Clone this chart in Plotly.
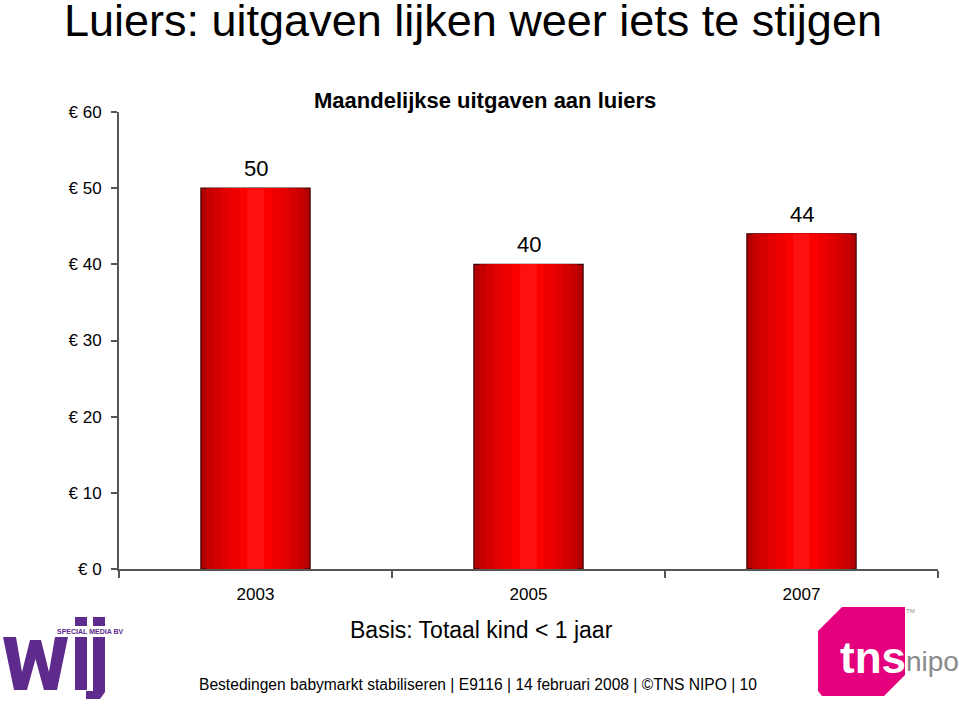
import plotly.graph_objects as go

# ---- data ----
years = ["2003", "2005", "2007"]
spend = [50, 40, 44]
y_ticks = [0, 10, 20, 30, 40, 50, 60]
y_ticklabels = ["€ 0", "€ 10", "€ 20", "€ 30", "€ 40", "€ 50", "€ 60"]

W, H = 959, 704
FONT = "Liberation Sans, Arial, sans-serif"

def px(x):
    return x / W

def py(y):
    return 1 - y / H

fig = go.Figure()

# gradient-like bars: overlaid bars of decreasing width, brighter to the centre
layers = [
    (0.40, "#B40000"),
    (0.36, "#C60000"),
    (0.31, "#D40000"),
    (0.25, "#E30000"),
    (0.19, "#EF0000"),
    (0.12, "#FA0000"),
    (0.06, "#FF1010"),
]
for i, (w, c) in enumerate(layers):
    fig.add_trace(go.Bar(
        x=years, y=spend, width=[w] * len(years),
        marker=dict(color=c, line=dict(color="#3A0000", width=1.2 if i == 0 else 0)),
        showlegend=False, hoverinfo="skip",
    ))

fig.update_layout(
    width=W, height=H,
    margin=dict(l=0, r=0, t=0, b=0, autoexpand=False),
    paper_bgcolor="white", plot_bgcolor="white",
    barmode="overlay",
    font=dict(family=FONT, color="#000000"),
    xaxis=dict(
        domain=[px(119), px(938)],
        type="category", range=[-0.5, 2.5],
        showline=True, linecolor="#555555", linewidth=2,
        ticks="outside", tickson="boundaries", ticklen=7, tickcolor="#555555", tickwidth=1.5,
        tickfont=dict(size=17, family=FONT), showgrid=False, zeroline=False,
        ticklabelstandoff=9, automargin=False,
    ),
    yaxis=dict(
        domain=[py(569), py(112)],
        range=[0, 60],
        tickvals=y_ticks, ticktext=y_ticklabels,
        showline=True, linecolor="#555555", linewidth=2,
        ticks="outside", ticklen=6, tickcolor="#555555", tickwidth=1.5,
        tickfont=dict(size=17, family=FONT), showgrid=False, zeroline=False,
        ticklabelstandoff=6, automargin=False,
    ),
)

annotations = [
    dict(text="Luiers: uitgaven lijken weer iets te stijgen", x=px(62), y=py(21),
         xanchor="left", yanchor="middle", font=dict(size=45, family=FONT)),
    dict(text="<b>Maandelijkse uitgaven aan luiers</b>", x=px(485), y=py(101),
         xanchor="center", yanchor="middle", font=dict(size=22, family=FONT)),
    dict(text="Basis: Totaal kind < 1 jaar", x=px(481), y=py(630),
         xanchor="center", yanchor="middle", font=dict(size=23, family=FONT)),
    dict(text="Bestedingen babymarkt stabiliseren | E9116 | 14 februari 2008 | ©TNS NIPO | 10",
         x=px(478), y=py(684), xanchor="center", yanchor="middle",
         font=dict(size=15.6, family=FONT)),
    # wij logo caption
    dict(text="<b>SPECIAL MEDIA BV</b>", x=px(56), y=py(631.5), xanchor="left", yanchor="middle",
         font=dict(size=7, family=FONT, color="#5E2A8C"), bgcolor="white", borderpad=0),
    # tns nipo logo
    dict(text="<b>tns</b>", x=px(873), y=py(657), xanchor="center", yanchor="middle",
         font=dict(size=44, family=FONT, color="white")),
    dict(text="nipo", x=px(904), y=py(661), xanchor="left", yanchor="middle",
         font=dict(size=28, family=FONT, color="#8A8A8A")),
    dict(text="TM", x=px(910), y=py(611), xanchor="center", yanchor="middle",
         font=dict(size=6, family=FONT, color="#8A8A8A")),
]
for a in annotations:
    a.update(xref="paper", yref="paper", showarrow=False)

# value labels above the bars, placed via the data axes (category index)
for i, v in enumerate(spend):
    annotations.append(dict(text=str(v), x=i, y=v, xref="x", yref="y",
                            xanchor="center", yanchor="bottom", yshift=5,
                            showarrow=False, font=dict(size=22, family=FONT)))
fig.update_layout(annotations=annotations)

def poly(pts):
    return "M " + " L ".join(f"{px(x):.5f},{py(y):.5f}" for x, y in pts) + " Z"

# pink tns logo shape (decoration)
fig.add_shape(type="path",
              path=poly([(842, 607), (905, 607), (905, 675), (884, 696), (822, 696), (818, 691), (818, 631)]),
              xref="paper", yref="paper", fillcolor="#E5007D", line=dict(width=0), layer="below")

# wij logo glyphs (decoration)
PURPLE = "#5E2A8C"
wij_polys = [
    [(3, 637), (16, 637), (22, 672), (30, 640), (41, 640), (49, 672), (55, 637), (68, 637),
     (57, 690), (44, 690), (35.5, 659), (27, 690), (14, 690)],
    [(75, 637), (87, 637), (87, 690), (75, 690)],
    [(75, 617), (87, 617), (87, 626), (75, 626)],
    [(93, 637), (105, 637), (105, 692), (100, 699), (86, 699), (86, 691), (93, 691)],
    [(93, 617), (105, 617), (105, 626), (93, 626)],
]
for p in wij_polys:
    fig.add_shape(type="path", path=poly(p), xref="paper", yref="paper",
                  fillcolor=PURPLE, line=dict(width=0), layer="below")

fig.write_html("out.html")
